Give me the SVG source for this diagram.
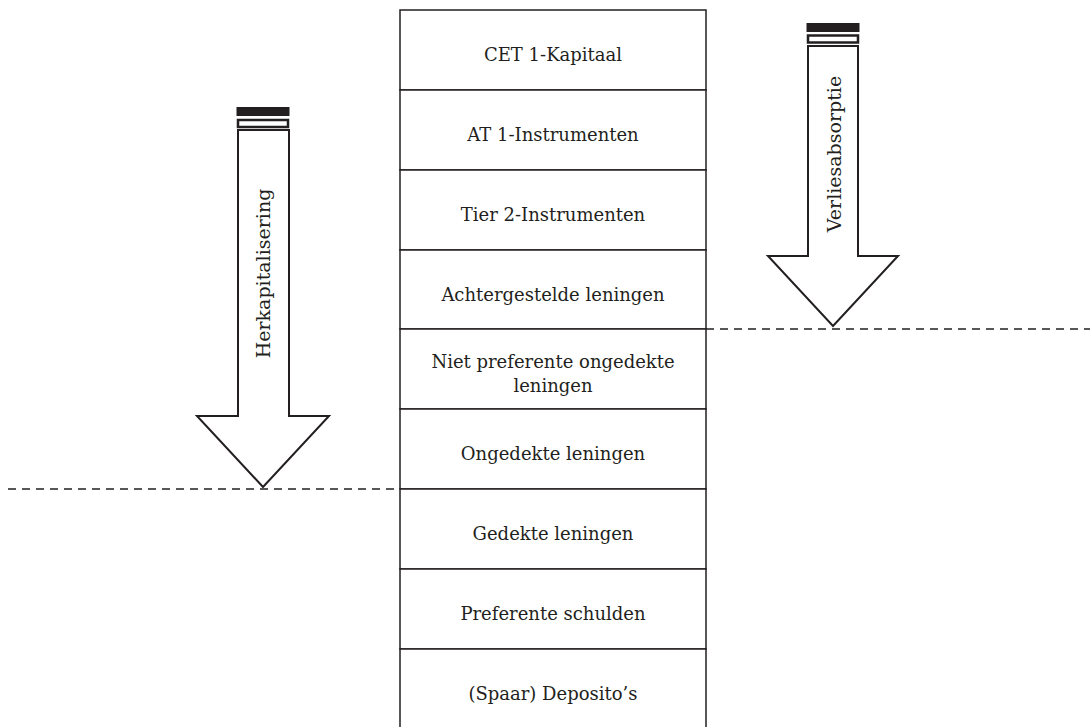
<svg xmlns="http://www.w3.org/2000/svg" width="1090" height="727" viewBox="0 0 1090 727">
<style>
.box{fill:#fff;stroke:#231f20;stroke-width:1.5}
.lbl{font-family:"DejaVu Serif","Liberation Serif",serif;font-size:18px;fill:#231f20;text-anchor:middle}
.vl{font-size:19px}
.arr{fill:#fff;stroke:#231f20;stroke-width:2;stroke-linejoin:miter}
.bar{fill:#231f20}
.ring{fill:#fff;stroke:#231f20;stroke-width:2.5}
.dash{fill:none;stroke:#231f20;stroke-width:1.5;stroke-dasharray:8 6}
</style>
<rect width="1090" height="727" fill="#fff"/>
<g id="stack">
<g id="n1"><rect class="box" x="400" y="10" width="306" height="80"/><text class="lbl" x="553" y="61">CET 1-Kapitaal</text></g>
<g id="n2"><rect class="box" x="400" y="90" width="306" height="80"/><text class="lbl" x="553" y="141">AT 1-Instrumenten</text></g>
<g id="n3"><rect class="box" x="400" y="170" width="306" height="80"/><text class="lbl" x="553" y="221">Tier 2-Instrumenten</text></g>
<g id="n4"><rect class="box" x="400" y="250" width="306" height="79"/><text class="lbl" x="553" y="301">Achtergestelde leningen</text></g>
<g id="n5"><rect class="box" x="400" y="329" width="306" height="80"/><text class="lbl" x="553" y="368">Niet preferente ongedekte</text><text class="lbl" x="553" y="392">leningen</text></g>
<g id="n6"><rect class="box" x="400" y="409" width="306" height="80"/><text class="lbl" x="553" y="460">Ongedekte leningen</text></g>
<g id="n7"><rect class="box" x="400" y="489" width="306" height="80"/><text class="lbl" x="553" y="540">Gedekte leningen</text></g>
<g id="n8"><rect class="box" x="400" y="569" width="306" height="80"/><text class="lbl" x="553" y="620">Preferente schulden</text></g>
<g id="n9"><rect class="box" x="400" y="649" width="306" height="82"/><text class="lbl" x="553" y="700">(Spaar) Deposito’s</text></g>
</g>
<g id="arrow-herkapitalisering">
<rect class="bar" x="236.5" y="107" width="53" height="9"/>
<rect class="ring" x="238" y="120" width="50" height="7"/>
<polygon class="arr" points="238,130 289,130 289,416 329,416 263,487 197,416 238,416"/>
<text class="lbl vl" transform="translate(270,273.5) rotate(-90)">Herkapitalisering</text>
</g>
<g id="arrow-verliesabsorptie">
<rect class="bar" x="806.5" y="23" width="53" height="9"/>
<rect class="ring" x="808" y="35.5" width="50" height="7"/>
<polygon class="arr" points="808,46 858,46 858,256 898,256 833,326 768,256 808,256"/>
<text class="lbl vl" transform="translate(841,154) rotate(-90)">Verliesabsorptie</text>
</g>
<g id="connectors">
<line class="dash" x1="8" y1="489" x2="400" y2="489"/>
<line class="dash" x1="706" y1="329" x2="1090" y2="329"/>
</g>
</svg>
